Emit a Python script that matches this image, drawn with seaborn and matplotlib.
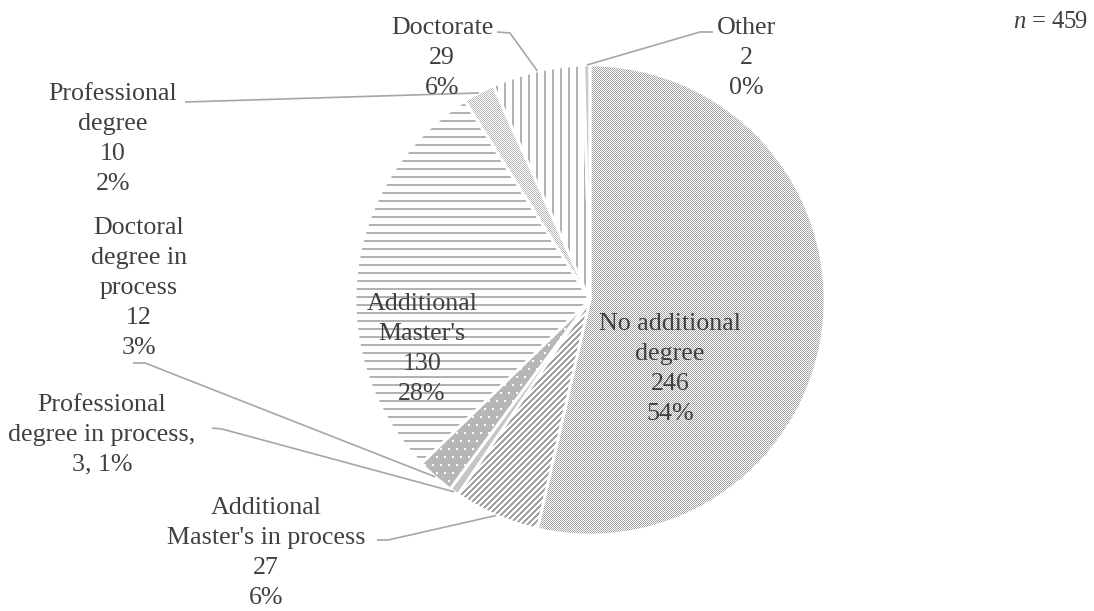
import numpy as np
import matplotlib
matplotlib.use("Agg")
import matplotlib.pyplot as plt
import seaborn as sns

# ---- data -------------------------------------------------------------
categories = [
    "No additional\ndegree",
    "Additional\nMaster's in process",
    "Professional\ndegree in process,",
    "Doctoral\ndegree in\nprocess",
    "Additional\nMaster's",
    "Professional\ndegree",
    "Doctorate",
    "Other",
]
counts = [246, 27, 3, 12, 130, 10, 29, 2]
sample_note = "459"

# ---- style --------------------------------------------------------------
sns.set_style("white")
plt.rcParams["font.family"] = ["Liberation Serif", "DejaVu Serif"]
plt.rcParams["mathtext.fontset"] = "custom"
plt.rcParams["mathtext.it"] = "Liberation Serif:italic"
plt.rcParams["mathtext.rm"] = "Liberation Serif"

TEXT = "#404040"
LEADER = "#a6a6a6"
FS = 18.7

W, H = 1094, 611
fig = plt.figure(figsize=(W / 100, H / 100), dpi=100)
ax = fig.add_axes([0, 0, 1, 1])


def Y(y):
    """top-down y to axes data y"""
    return H - y


CX, CY, R = 590, Y(300), 235

total = sum(counts)
percents = [round(100 * c / total) for c in counts]

# base wedges (used as clip regions for the fill textures)
wedges, _ = ax.pie(counts, startangle=90, counterclock=False,
                   center=(CX, CY), radius=R, frame=False,
                   wedgeprops=dict(facecolor="none", edgecolor="none", linewidth=0))

# ---- fill textures ------------------------------------------------------
ii, jj = np.mgrid[0:H, 0:W]
g_fg = np.array([0.64, 0.64, 0.64])
white = np.array([1.0, 1.0, 1.0])


def texture(mask, fg, bg):
    arr = np.empty((H, W, 3))
    arr[:] = bg
    if mask is not None:
        arr[mask] = fg
    return arr


checker = (ii + jj) % 2 == 0
diag = (ii + jj) % 6 < 3
hlines = ii % 8 < 2
vlines = jj % 8 < 2
dots = (ii % 8 < 2) & ((jj + 4 * ((ii // 8) % 2)) % 8 < 2)

fills = [
    texture(checker, g_fg, white),                          # No additional degree
    texture(diag, g_fg, white),                             # Additional Master's in process
    texture(None, white, np.array([0.78, 0.78, 0.78])),     # Professional degree in process
    texture(dots, white, np.array([0.72, 0.72, 0.72])),     # Doctoral degree in process
    texture(hlines, np.array([0.70, 0.70, 0.70]), white),   # Additional Master's
    texture(checker, np.array([0.72, 0.72, 0.72]), white),  # Professional degree
    texture(vlines, np.array([0.70, 0.70, 0.70]), white),   # Doctorate
    texture(None, white, np.array([0.80, 0.80, 0.80])),     # Other
]

ax.set_xlim(0, W)
ax.set_ylim(0, H)

for w, arr in zip(wedges, fills):
    im = ax.imshow(arr, extent=(0, W, 0, H), origin="upper",
                   interpolation="none", zorder=1)
    im.set_clip_path(w)

# white separators between slices
ax.pie(counts, startangle=90, counterclock=False, center=(CX, CY), radius=R,
       frame=False,
       wedgeprops=dict(facecolor="none", edgecolor="white", linewidth=2, zorder=3))

ax.set_xlim(0, W)
ax.set_ylim(0, H)
ax.set_aspect("equal")
ax.set_axis_off()


def arc_point(w, frac=1.0):
    mid = np.deg2rad((w.theta1 + w.theta2) / 2)
    return CX + frac * R * np.cos(mid), CY + frac * R * np.sin(mid)


def label(i, x, y, fmt="{name}\n{n}\n{p}%"):
    txt = fmt.format(name=categories[i], n=counts[i], p=percents[i])
    ax.text(x, Y(y), txt, ha="center", va="center", fontsize=FS,
            color=TEXT, linespacing=1.46, zorder=5)


def leader(i, pts):
    xs = [p[0] for p in pts]
    ys = [Y(p[1]) for p in pts]
    ex, ey = arc_point(wedges[i])
    xs.append(ex)
    ys.append(ey)
    ax.plot(xs, ys, color=LEADER, lw=1.2, zorder=4, solid_capstyle="butt")


# labels inside the two large slices
label(0, 670, 369)
label(4, 422, 349)

# outside labels with leader lines
label(6, 442, 58)
leader(6, [(497, 32), (510, 33)])

label(7, 746, 58)
leader(7, [(713, 32), (700, 32)])

label(5, 113, 139)
leader(5, [(185, 102)])

label(3, 139, 288)
leader(3, [(133, 363), (145, 363)])

label(2, 102, 435, fmt="{name}\n{n}, {p}%")
leader(2, [(212, 428), (222, 429)])

label(1, 266, 553)
leader(1, [(377, 540), (388, 540)])

ax.text(1087, Y(22), r"$n$ = " + sample_note, ha="right", va="center",
        fontsize=FS * 0.95, color=TEXT)

fig.savefig("out.png", dpi=100)
